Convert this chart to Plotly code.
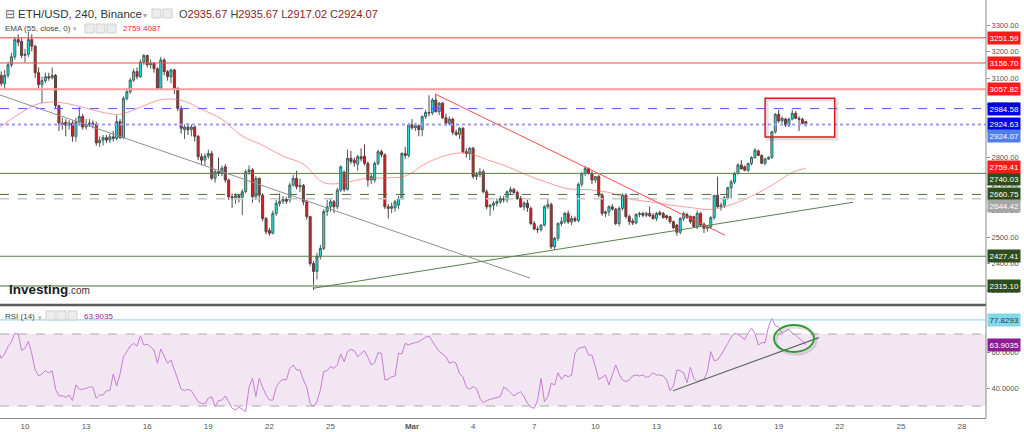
import pandas as pd
import plotly.graph_objects as go

# ---------------- DATA ----------------
opens = [3070, 3110, 3078, 3110, 3150, 3180, 3245, 3238, 3185, 3190,
         3245, 3220, 3120, 3075, 3090, 3105, 3100, 3110, 2995, 2930,
         2933, 2922, 2930, 2880, 2935, 2955, 2915, 2925, 2930, 2925,
         2855, 2865, 2875, 2866, 2878, 2872, 2935, 2875, 3023, 3048,
         3092, 3124, 3105, 3160, 3185, 3150, 3155, 3135, 3061, 3168,
         3124, 3105, 3130, 3061, 2985, 2905, 2915, 2905, 2915, 2880,
         2803, 2790, 2805, 2815, 2722, 2746, 2740, 2765, 2715, 2652,
         2648, 2656, 2650, 2671, 2746, 2753, 2652, 2721, 2658, 2570,
         2525, 2514, 2589, 2627, 2635, 2642, 2640, 2696, 2721, 2690,
         2695, 2633, 2577, 2400, 2370, 2426, 2457, 2596, 2614, 2633,
         2614, 2677, 2745, 2680, 2797, 2790, 2775, 2803, 2805, 2778,
         2715, 2715, 2778, 2822, 2810, 2614, 2608, 2610, 2620, 2646,
         2815, 2808, 2923, 2912, 2920, 2905, 2954, 2970, 2968, 3017,
         2973, 3005, 2950, 2929, 2945, 2895, 2887, 2910, 2822, 2815,
         2835, 2728, 2735, 2746, 2671, 2614, 2620, 2627, 2633, 2645,
         2640, 2671, 2680, 2668, 2645, 2614, 2628, 2608, 2551, 2530,
         2528, 2545, 2614, 2622, 2463, 2495, 2551, 2558, 2589, 2557,
         2570, 2562, 2699, 2740, 2758, 2740, 2715, 2728, 2658, 2589,
         2595, 2614, 2605, 2551, 2608, 2658, 2577, 2560, 2553, 2585,
         2589, 2582, 2589, 2582, 2570, 2592, 2589, 2580, 2577, 2558,
         2545, 2518, 2570, 2585, 2577, 2577, 2539, 2589, 2548, 2533,
         2538, 2573, 2658, 2614, 2620, 2648, 2686, 2708, 2740, 2772,
         2765, 2752, 2778, 2800, 2825, 2808, 2778, 2794, 2800, 2897,
         2963, 2938, 2945, 2923, 2945, 2967, 2948, 2944, 2935.67]
highs = [3120, 3125, 3130, 3160, 3195, 3255, 3265, 3250, 3210, 3275,
         3265, 3225, 3140, 3105, 3120, 3120, 3140, 3115, 3000, 2950,
         2945, 2940, 2940, 2950, 2990, 2965, 2945, 2945, 2940, 2935,
         2880, 2885, 2885, 2890, 2900, 2960, 2945, 3030, 3060, 3100,
         3135, 3140, 3170, 3190, 3188, 3170, 3160, 3140, 3180, 3175,
         3130, 3135, 3135, 3065, 2995, 2925, 2930, 2925, 2920, 2885,
         2815, 2815, 2830, 2825, 2755, 2800, 2770, 2775, 2720, 2665,
         2665, 2660, 2680, 2755, 2770, 2760, 2730, 2725, 2665, 2575,
         2535, 2600, 2640, 2665, 2655, 2650, 2705, 2735, 2750, 2720,
         2700, 2640, 2580, 2410, 2440, 2470, 2605, 2640, 2645, 2640,
         2685, 2770, 2750, 2830, 2825, 2800, 2810, 2835, 2850, 2785,
         2740, 2785, 2830, 2830, 2815, 2625, 2630, 2640, 2655, 2820,
         2840, 2930, 2945, 2930, 2925, 2960, 2980, 3035, 3025, 3038,
         3010, 3010, 2965, 2955, 2950, 2905, 2915, 2915, 2835, 2840,
         2840, 2745, 2760, 2755, 2680, 2625, 2635, 2645, 2655, 2655,
         2675, 2690, 2685, 2675, 2655, 2635, 2640, 2615, 2560, 2540,
         2548, 2620, 2645, 2630, 2500, 2555, 2575, 2595, 2600, 2580,
         2578, 2705, 2745, 2768, 2762, 2748, 2730, 2735, 2665, 2600,
         2620, 2625, 2610, 2615, 2665, 2665, 2585, 2570, 2590, 2595,
         2595, 2595, 2615, 2590, 2595, 2600, 2595, 2585, 2580, 2562,
         2550, 2575, 2595, 2592, 2582, 2580, 2600, 2595, 2555, 2545,
         2580, 2660, 2728, 2630, 2655, 2690, 2715, 2745, 2778, 2790,
         2770, 2780, 2805, 2835, 2830, 2812, 2800, 2805, 2900, 2968,
         2980, 2955, 2950, 2950, 2980, 2975, 2955, 2950, 2935.67]
lows = [3050, 3070, 3060, 3100, 3140, 3170, 3220, 3175, 3160, 3180,
        3200, 3100, 3060, 3005, 3080, 3090, 3095, 2985, 2900, 2905,
        2880, 2905, 2860, 2860, 2920, 2905, 2905, 2915, 2910, 2845,
        2840, 2845, 2855, 2855, 2860, 2865, 2870, 2870, 3015, 3040,
        3085, 3095, 3100, 3150, 3140, 3135, 3120, 3055, 3055, 3110,
        3090, 3080, 3040, 2975, 2890, 2870, 2885, 2880, 2860, 2790,
        2770, 2770, 2795, 2715, 2705, 2730, 2730, 2705, 2640, 2610,
        2625, 2630, 2583, 2665, 2735, 2630, 2640, 2630, 2560, 2510,
        2505, 2510, 2580, 2615, 2625, 2625, 2630, 2690, 2680, 2670,
        2620, 2565, 2390, 2300, 2340, 2415, 2450, 2580, 2595, 2590,
        2605, 2670, 2670, 2675, 2775, 2765, 2750, 2785, 2770, 2690,
        2700, 2705, 2770, 2800, 2605, 2570, 2590, 2595, 2605, 2640,
        2795, 2800, 2905, 2900, 2880, 2880, 2945, 2955, 2960, 2970,
        2960, 2945, 2920, 2920, 2885, 2880, 2870, 2815, 2800, 2790,
        2720, 2715, 2725, 2665, 2605, 2580, 2600, 2615, 2625, 2630,
        2630, 2660, 2660, 2640, 2610, 2600, 2595, 2545, 2525, 2515,
        2520, 2540, 2605, 2455, 2451, 2485, 2540, 2550, 2550, 2545,
        2555, 2555, 2690, 2730, 2735, 2700, 2705, 2650, 2580, 2575,
        2580, 2600, 2545, 2540, 2600, 2570, 2545, 2545, 2548, 2575,
        2575, 2575, 2575, 2565, 2560, 2580, 2570, 2565, 2550, 2530,
        2505, 2510, 2560, 2570, 2550, 2535, 2530, 2540, 2515, 2520,
        2530, 2565, 2610, 2600, 2610, 2640, 2645, 2700, 2735, 2755,
        2748, 2745, 2770, 2795, 2805, 2775, 2770, 2790, 2795, 2890,
        2930, 2930, 2915, 2915, 2940, 2945, 2900, 2925, 2917.02]
closes = [3110, 3080, 3110, 3150, 3180, 3245, 3235, 3185, 3190, 3245,
          3220, 3120, 3075, 3090, 3105, 3100, 3110, 2995, 2930, 2925,
          2922, 2930, 2880, 2935, 2955, 2915, 2925, 2930, 2925, 2855,
          2865, 2875, 2866, 2878, 2872, 2935, 2875, 3023, 3048, 3092,
          3124, 3105, 3160, 3185, 3150, 3155, 3135, 3061, 3168, 3124,
          3105, 3130, 3061, 2985, 2910, 2915, 2905, 2915, 2880, 2803,
          2790, 2805, 2815, 2722, 2746, 2740, 2760, 2715, 2652, 2648,
          2656, 2650, 2671, 2746, 2753, 2652, 2721, 2658, 2570, 2520,
          2514, 2589, 2627, 2635, 2642, 2635, 2696, 2721, 2690, 2695,
          2633, 2577, 2400, 2370, 2426, 2457, 2596, 2614, 2633, 2614,
          2677, 2765, 2680, 2797, 2785, 2780, 2803, 2795, 2778, 2715,
          2728, 2778, 2822, 2810, 2614, 2608, 2615, 2633, 2646, 2815,
          2808, 2923, 2912, 2920, 2905, 2954, 2970, 2968, 3017, 2973,
          3005, 2950, 2929, 2945, 2895, 2887, 2910, 2822, 2815, 2835,
          2728, 2735, 2746, 2671, 2614, 2620, 2627, 2633, 2645, 2640,
          2671, 2680, 2668, 2645, 2614, 2628, 2610, 2551, 2530, 2528,
          2545, 2614, 2622, 2463, 2495, 2551, 2558, 2589, 2557, 2570,
          2562, 2699, 2740, 2758, 2740, 2715, 2728, 2658, 2589, 2595,
          2614, 2605, 2551, 2608, 2658, 2577, 2558, 2553, 2585, 2589,
          2582, 2589, 2580, 2570, 2589, 2585, 2573, 2573, 2558, 2535,
          2518, 2570, 2589, 2573, 2558, 2539, 2589, 2545, 2533, 2538,
          2573, 2656, 2614, 2620, 2648, 2686, 2708, 2740, 2772, 2757,
          2752, 2778, 2800, 2828, 2808, 2778, 2794, 2800, 2897, 2963,
          2938, 2948, 2923, 2945, 2967, 2948, 2944, 2929, 2924.07]

rsi = [61, 56.5, 59, 63, 65.7, 70.4, 70, 61, 62, 66,
       59, 50, 46.7, 47.8, 49.6, 48.5, 49.6, 39.3, 35.6, 35.7,
       34.8, 36.1, 33, 41.7, 39.3, 39.3, 39.8, 40.7, 40.4, 34.3,
       36.1, 36.1, 38.5, 38.5, 47.8, 41.1, 47.8, 57.4, 60.2, 63.3,
       64.8, 63.3, 68.9, 63.9, 64.3, 63, 61.1, 53.7, 61.7, 57.4,
       53.7, 55.6, 50, 44.5, 39.3, 38.5, 39.3, 38.5, 35.6, 32.4,
       31.5, 31.1, 34.3, 35.2, 29.6, 33, 33.3, 35.6, 32.4, 28.7,
       27.8, 29.3, 28.2, 26.9, 40.4, 45.4, 35.2, 45.4, 40.4, 36.1,
       33.3, 33.3, 40.4, 43.5, 44.8, 44.5, 50.9, 52.8, 50,
       50, 44.5, 40.4, 31.5, 29.6, 32.4, 38.9, 49.1, 49.6, 51.9,
       50.9, 52.8, 58.9, 54.6, 60.2, 61.5, 60.7, 57.4, 59.3, 60.7,
       57, 52.8, 54.1, 59.6, 59.3, 44.5, 44.8, 46.3, 46.7, 59.3,
       58.9, 64.8, 63.9, 64.8, 65.2, 65.7, 67, 68.2, 68.9, 65.7,
       63, 60.2, 58.9, 57.4, 53.7, 54.6, 53.7, 47.8, 46.3, 40.4,
       39.3, 40.7, 39.8, 34.3, 31.8, 33, 33.7, 34.3, 34.8, 35.2,
       40.4, 39.3, 37.4, 35.6, 37, 38, 35.2, 31.5, 29.3, 28.7,
       33.3, 45.4, 32.4, 35.2, 42.6, 41.7, 48.5, 44.8, 47.2, 46.3,
       47.2, 59.3, 62, 62.6, 63, 58.3, 58.3, 51.9, 44.8, 45.9,
       47.2, 41.7, 47.2, 52.8, 47.8, 44.5, 43.5, 44.5, 46.7, 47.2,
       46.7, 47.2, 45.9, 46.7, 48.5, 47.2, 47.2, 46.7, 44.5, 38.5,
       41.1, 50, 49.6, 48.5, 42.9, 51.5, 45.4, 43.5,
       44.5, 44.8, 49.1, 60.2, 55.2, 55.6, 58.3, 62, 64.8, 68.2,
       70.4, 69.8, 68.2, 67, 70.4, 73.2, 70.4, 63.9, 65.2, 65.2,
       74.1, 78.7, 74.5, 74.1, 70.4, 71.3, 72.6, 70.4, 69.4, 67.6,
       66.3, 63.9035]

# EMA(55) read every 6th candle, plus the last one
ema_vals = [2908, 2962, 3003, 3008, 2993, 2973, 2963, 2990, 3018, 3016,
            2982, 2944, 2881, 2846, 2805, 2775, 2705, 2705, 2720, 2723,
            2730, 2777, 2808, 2817, 2792, 2766, 2733, 2705, 2682, 2678,
            2668, 2644, 2633, 2621, 2611, 2604, 2622, 2654, 2695, 2744,
            2759.41]

tick_dates = ["2022-02-10", "2022-02-13", "2022-02-16", "2022-02-19", "2022-02-22",
              "2022-02-25", "2022-03-01", "2022-03-04", "2022-03-07", "2022-03-10",
              "2022-03-13", "2022-03-16", "2022-03-19", "2022-03-22", "2022-03-25",
              "2022-03-28"]
tick_text = ["10", "13", "16", "19", "22", "25", "<b>Mar</b>", "4", "7", "10",
             "13", "16", "19", "22", "25", "28"]

# horizontal levels: (price, line colour, dash, width, label bg, label shift px)
levels = [
    (3251.59, "#ff3b3b", "solid", 1, "#ff1a1a", 0),
    (3156.70, "#ff4646", "solid", 1, "#ff1a1a", 0),
    (3057.82, "#ff9a9a", "solid", 2, "#ff1a1a", 0),
    (2984.58, "#5555ff", "dash", 1, "#0000e6", 0),
    (2924.63, "#9a9aff", "dot", 2, "#0000e6", 0),
    (2740.03, "#5a7a45", "solid", 1, "#2d4d1c", -6),
    (2660.75, "#4a6a3a", "dash", 1, "#2d4d1c", 0),
    (2644.42, "#c8c8c8", "dash", 1.5, "#a6a6a6", -7),
    (2427.41, "#5a7a45", "solid", 1, "#2d4d1c", 0),
    (2315.10, "#9fb59a", "solid", 2, "#2d4d1c", 0),
]
last_price = 2924.07
ema_last = 2759.41
rsi_level = 77.8293

# ---------------- FIGURE ----------------
times = pd.date_range("2022-02-08 16:00", periods=len(closes), freq="4h")
ema_times = list(times[::6]) + [times[-1]]

W, H, B = 1024, 432, 14
PH = H - B
XR = 986 / W


def py(p):
    return (PH - p) / PH


def px(p):
    return p / W


fig = go.Figure()
fig.add_trace(go.Candlestick(
    x=times, open=opens, high=highs, low=lows, close=closes,
    xaxis="x", yaxis="y", whiskerwidth=0, hoverinfo="skip",
    increasing=dict(fillcolor="#19eded", line=dict(color="#47605a", width=1)),
    decreasing=dict(fillcolor="#ee1111", line=dict(color="#5a4040", width=1)),
))
fig.add_trace(go.Scatter(
    x=ema_times, y=ema_vals, mode="lines", xaxis="x", yaxis="y",
    line=dict(color="rgba(255,90,90,0.6)", width=1, shape="spline"), hoverinfo="skip"))
fig.add_trace(go.Scatter(
    x=times, y=rsi, mode="lines", xaxis="x2", yaxis="y2",
    line=dict(color="#c77dd6", width=1), hoverinfo="skip"))

shapes = []
annotations = []

# RSI band and guides
shapes.append(dict(type="rect", xref="paper", yref="y2", x0=0, x1=XR, y0=30, y1=70,
                   fillcolor="#f3e6f3", line=dict(width=0), layer="below"))
for lv in (30, 70):
    shapes.append(dict(type="line", xref="paper", yref="y2", x0=0, x1=XR, y0=lv, y1=lv,
                       line=dict(color="#a9a9a9", width=1, dash="dash")))
shapes.append(dict(type="line", xref="paper", yref="y2", x0=0, x1=XR, y0=rsi_level, y1=rsi_level,
                   line=dict(color="#7fd3e8", width=1)))

# price levels
for p, col, dash, w, bg, shift in levels:
    shapes.append(dict(type="line", xref="paper", yref="y", x0=0, x1=XR, y0=p, y1=p,
                       line=dict(color=col, width=w, dash=dash)))
    annotations.append(dict(xref="paper", yref="y", x=px(987), y=p, yshift=shift,
                            text=f"{p:.2f}", showarrow=False, xanchor="left",
                            font=dict(size=8, color="white"), bgcolor=bg, borderpad=1.5))
annotations.append(dict(xref="paper", yref="y", x=px(987), y=last_price, yshift=-11,
                        text=f"{last_price:.2f}", showarrow=False, xanchor="left",
                        font=dict(size=8, color="white"), bgcolor="#4f7fe6", borderpad=1.5))
annotations.append(dict(xref="paper", yref="y", x=px(987), y=ema_last, yshift=1,
                        text=f"{ema_last:.2f}", showarrow=False, xanchor="left",
                        font=dict(size=8, color="white"), bgcolor="#ff1a1a", borderpad=1.5))
annotations.append(dict(xref="paper", yref="y2", x=px(987), y=rsi_level,
                        text=f"{rsi_level:.4f}", showarrow=False, xanchor="left",
                        font=dict(size=8, color="#333"), bgcolor="#80d8ea", borderpad=1.5))
annotations.append(dict(xref="paper", yref="y2", x=px(987), y=rsi[-1],
                        text=f"{rsi[-1]:.4f}", showarrow=False, xanchor="left",
                        font=dict(size=8, color="white"), bgcolor="#8e1b94", borderpad=1.5))

# trend lines
shapes.append(dict(type="line", xref="x", yref="y", x0="2022-02-08 18:30", y0=3036,
                   x1="2022-03-06 19:00", y1=2345, line=dict(color="#8f8f8f", width=1)))
shapes.append(dict(type="line", xref="x", yref="y", x0="2022-03-02 03:00", y0=3040,
                   x1="2022-03-16 08:40", y1=2507, line=dict(color="#ff4a4a", width=1)))
shapes.append(dict(type="line", xref="x", yref="y", x0="2022-02-24 04:30", y0=2307,
                   x1="2022-03-22 15:30", y1=2631, line=dict(color="#5b7f4b", width=1)))
shapes.append(dict(type="line", xref="x2", yref="y2", x0="2022-03-13 19:30", y0=38.5,
                   x1="2022-03-20 23:30", y1=68, line=dict(color="#5f6a5f", width=1.2)))

# red box with shadow
shapes.append(dict(type="rect", xref="x", yref="y", x0="2022-03-18 10:30", x1="2022-03-21 20:30",
                   y0=2870, y1=3017, line=dict(color="rgba(0,0,0,0.12)", width=3)))
shapes.append(dict(type="rect", xref="x", yref="y", x0="2022-03-18 08:00", x1="2022-03-21 18:00",
                   y0=2877, y1=3024, line=dict(color="#d81b1b", width=1.5)))
# green ellipse with shadow
shapes.append(dict(type="circle", xref="x2", yref="y2", x0="2022-03-18 21:00", x1="2022-03-20 20:00",
                   y0=58.8, y1=73.8, line=dict(color="rgba(0,0,0,0.12)", width=3)))
shapes.append(dict(type="circle", xref="x2", yref="y2", x0="2022-03-18 18:30", x1="2022-03-20 17:30",
                   y0=60, y1=75, line=dict(color="#2e9a2e", width=1.8)))

# panel separator and right axis line
shapes.append(dict(type="line", xref="paper", yref="paper", x0=0, x1=XR, y0=py(305), y1=py(305),
                   line=dict(color="#5a5a5a", width=2.5)))
shapes.append(dict(type="line", xref="paper", yref="paper", x0=XR, x1=XR, y0=0, y1=1,
                   line=dict(color="#8a8a8a", width=1)))

# small toolbar icons
def icon(x0, y0, s=9):
    shapes.append(dict(type="rect", xref="paper", yref="paper", x0=px(x0), x1=px(x0 + s),
                       y0=py(y0 + s), y1=py(y0), fillcolor="#ececec",
                       line=dict(color="#d0d0d0", width=1)))

for xx in (152, 163):
    icon(xx, 9)
for xx in (85, 96, 107):
    icon(xx, 24)
for xx in (46, 57, 68):
    icon(xx, 311)

# header texts
def txt(x, y, text, size, color):
    annotations.append(dict(xref="paper", yref="paper", x=px(x), y=py(y), text=text,
                            showarrow=False, xanchor="left", yanchor="middle",
                            font=dict(size=size, color=color)))

txt(3, 14, "⊟", 12, "#666")
txt(16, 14, "ETH/USD, 240, Binance", 11.5, "#333")
txt(141, 15, "▾", 8, "#aaa")
red = "#8b1c1c"
txt(177, 14, f"O<span style='color:{red}'>2935.67</span> H<span style='color:{red}'>2935.67</span> "
             f"L<span style='color:{red}'>2917.02</span> C<span style='color:{red}'>2924.07</span>", 11, "#444")
txt(3, 28, "EMA (55, close, 0)", 8, "#444")
txt(71, 29, "▾", 7, "#aaa")
txt(121, 28, "2759.4087", 8, "#ff2020")
txt(3, 316, "RSI (14)", 8, "#444")
txt(36, 317, "▾", 7, "#aaa")
txt(82, 316, "63.9035", 8, "#a020a0")
txt(7, 289, "<b>Investing</b><span style='font-size:10px;color:#333'>.com</span>", 13.5, "#1a1a1a")

x_range = ["2022-02-08 18:33", "2022-03-29 04:16"]

fig.update_layout(
    width=W, height=H, margin=dict(l=0, r=0, t=0, b=B),
    paper_bgcolor="white", plot_bgcolor="white", showlegend=False,
    font=dict(family="Liberation Sans, Arial, sans-serif", color="#555"),
    shapes=shapes, annotations=annotations, hovermode=False, boxgap=0.15,
    xaxis=dict(domain=[0, XR], range=x_range, type="date", anchor="y", matches="x2",
               showticklabels=False, showgrid=False, zeroline=False,
               rangeslider=dict(visible=False), ticks=""),
    xaxis2=dict(domain=[0, XR], range=x_range, type="date", anchor="y2",
                tickvals=tick_dates, ticktext=tick_text, tickfont=dict(size=8, color="#555"),
                showgrid=False, zeroline=False, showline=True, linecolor="#8a8a8a",
                ticks="", automargin=False),
    yaxis=dict(domain=[py(303), 1], range=[2250.95, 3394.35], side="right", anchor="x",
               tickvals=list(range(2300, 3400, 100)),
               ticktext=[f"{v:.2f}" for v in range(2300, 3400, 100)],
               tickfont=dict(size=7.5, color="#555"), ticks="outside", ticklen=3,
               tickcolor="#8a8a8a", showgrid=False, zeroline=False, automargin=False),
    yaxis2=dict(domain=[0, py(307)], range=[23.33, 85], side="right", anchor="x2",
                tickvals=[40, 60], ticktext=["40.0000", "60.0000"],
                tickfont=dict(size=7.5, color="#555"), ticks="outside", ticklen=3,
                tickcolor="#8a8a8a", showgrid=False, zeroline=False, automargin=False),
)

fig.write_html("out.html", config={"displayModeBar": False, "staticPlot": True},
               post_script="document.body.style.margin='0px';"
               "document.body.style.overflow='hidden';")
